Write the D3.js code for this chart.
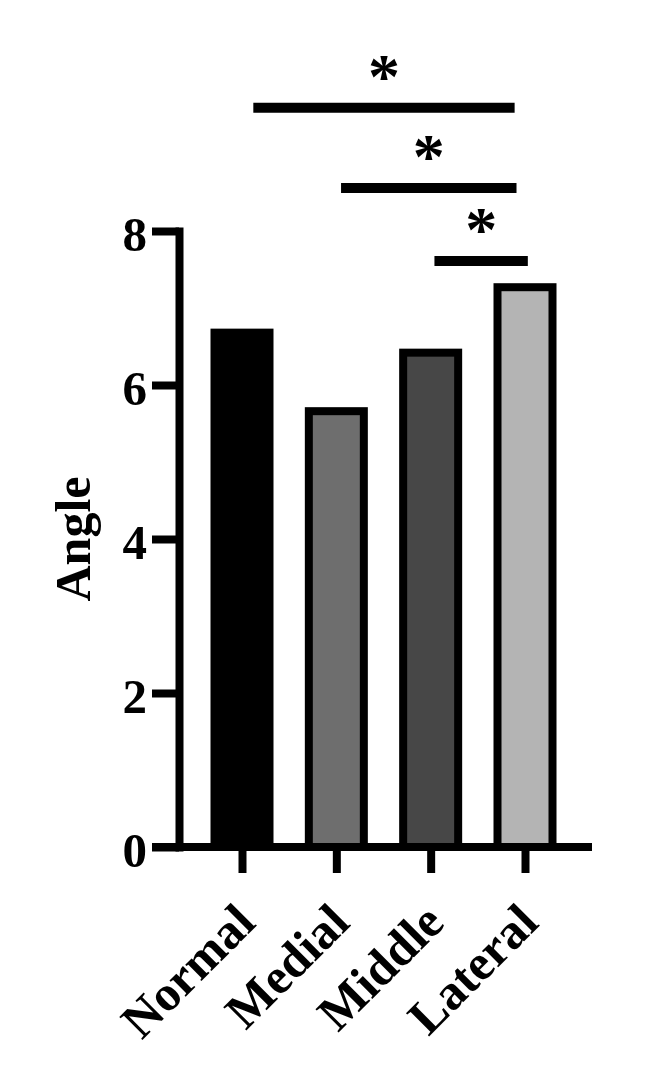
<!DOCTYPE html>
<html>
<head>
<meta charset="utf-8">
<script src="https://cdn.jsdelivr.net/npm/d3@7"></script>
<style>
  html, body { margin: 0; padding: 0; background: #fff; }
  svg { display: block; }
  .lbl { font-family: "Liberation Serif", "Times New Roman", serif; font-weight: bold; fill: #000; }
</style>
</head>
<body>
<div id="chart"></div>
<script>
// ---- data ----
const categories = ["Normal", "Medial", "Middle", "Lateral"];
const values = [6.68, 5.66, 6.42, 7.27];
const yTicks = [0, 2, 4, 6, 8];
const yLabel = "Angle";
// significance brackets: start / end in category-index units, level in data units
const sigStart = [0.12, 1.05, 2.04];
const sigEnd = [2.89, 2.91, 3.03];
const sigLevel = [9.6, 8.56, 7.61];
const sigLabel = ["*", "*", "*"];

// ---- styles ----
const fills = ["#000000", "#6e6e6e", "#474747", "#b4b4b4"];
const W = 649, H = 1079;
const SW = 8;

const svg = d3.select("#chart").append("svg")
  .attr("width", W).attr("height", H)
  .style("background", "#fff");

const y = d3.scaleLinear().domain([0, 8]).range([847, 231]);
const x = d3.scalePoint().domain(categories).range([242, 525]);
const xi = d3.scaleLinear().domain([0, categories.length - 1]).range([242, 525]);
const barW = 55;

// bars
svg.append("g").selectAll("rect")
  .data(values)
  .join("rect")
  .attr("x", (d, i) => x(categories[i]) - barW / 2)
  .attr("y", d => y(d))
  .attr("width", barW)
  .attr("height", d => y(0) - y(d))
  .attr("fill", (d, i) => fills[i])
  .attr("stroke", "#000")
  .attr("stroke-width", SW);

// y axis
const yAxis = svg.append("g")
  .attr("transform", `translate(179,0)`)
  .call(d3.axisLeft(y).tickValues(yTicks).tickFormat(d3.format("d"))
    .tickSize(27).tickSizeOuter(0).tickPadding(5));
yAxis.select(".domain").attr("stroke", "#000").attr("stroke-width", SW)
  .attr("stroke-linecap", "square");
yAxis.selectAll(".tick line").attr("stroke", "#000").attr("stroke-width", SW);
yAxis.selectAll(".tick text")
  .attr("class", "lbl")
  .attr("dy", "0.4em")
  .style("font-size", "49px");

// x axis
svg.append("line")
  .attr("x1", 152).attr("x2", 592)
  .attr("y1", y(0)).attr("y2", y(0))
  .attr("stroke", "#000").attr("stroke-width", SW);
const xAxis = svg.append("g")
  .attr("transform", `translate(0,${y(0)})`)
  .call(d3.axisBottom(x).tickSize(26).tickSizeOuter(0));
xAxis.select(".domain").remove();
xAxis.selectAll(".tick line").attr("stroke", "#000").attr("stroke-width", SW);
xAxis.selectAll(".tick text")
  .attr("class", "lbl")
  .style("font-size", "50px")
  .attr("text-anchor", "end")
  .attr("x", 0).attr("y", 0).attr("dy", 0)
  .attr("transform", "translate(15,78) rotate(-45)");

// y label
svg.append("text")
  .attr("class", "lbl")
  .attr("transform", `translate(90,${(y(0) + y(8)) / 2}) rotate(-90)`)
  .attr("text-anchor", "middle")
  .style("font-size", "50px")
  .text(yLabel);

// significance brackets
const sig = svg.append("g");
sigLevel.forEach((lv, i) => {
  sig.append("line")
    .attr("x1", xi(sigStart[i])).attr("x2", xi(sigEnd[i]))
    .attr("y1", y(lv)).attr("y2", y(lv))
    .attr("stroke", "#000").attr("stroke-width", 10);
  sig.append("text")
    .attr("class", "lbl")
    .attr("x", (xi(sigStart[i]) + xi(sigEnd[i])) / 2)
    .attr("y", y(lv) - 10)
    .attr("text-anchor", "middle")
    .style("font-size", "64px")
    .text(sigLabel[i]);
});
</script>
</body>
</html>
